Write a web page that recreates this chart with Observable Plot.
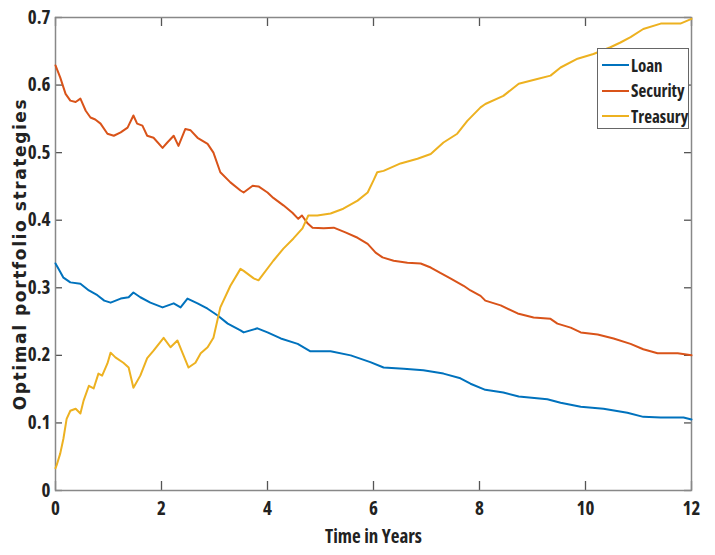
<!DOCTYPE html>
<html>
<head>
<meta charset="utf-8">
<script src="https://cdn.jsdelivr.net/npm/d3@7"></script>
<script src="https://cdn.jsdelivr.net/npm/@observablehq/plot@0.6"></script>
<style>
  html, body { margin: 0; padding: 0; background: #fff; }
  #wrap { position: relative; width: 715px; height: 555px; }
  #wrap svg text { font-family: "Open Sans", "Noto Sans", sans-serif; font-stretch: 75%; font-weight: bold; fill: #222; }
  #wrap svg g[aria-label="y-axis label"] text { font-family: "DejaVu Sans", sans-serif; font-stretch: normal; font-size: 17px; letter-spacing: 1.6px; }
  #legend { position: absolute; left: 597px; top: 48px; width: 92px; height: 81px; border: 1px solid #666;
    background: #fff; box-sizing: border-box; font-family: "Open Sans", "Noto Sans", sans-serif; font-stretch: 75%;
    font-weight: bold; font-size: 17px; color: #222; }
  .item { position: absolute; left: 4px; height: 20px; display: flex; align-items: center; }
  .sw { width: 27px; height: 2px; margin-right: 2px; }
</style>
</head>
<body>
<div id="wrap"></div>
<script>
const seriesNames = ["Loan", "Security", "Treasury"];
const seriesColors = ["#0072BD", "#D95319", "#EDB120"];

const loanT = [0,0.08,0.15,0.28,0.47,0.63,0.79,0.92,1.04,1.23,1.38,1.47,1.6,1.79,2.02,2.23,2.36,2.49,2.68,2.87,3.06,3.25,3.49,3.55,3.81,4.0,4.25,4.57,4.81,5.19,5.57,5.94,6.19,6.57,6.94,7.32,7.64,7.83,8.11,8.45,8.74,9.28,9.53,9.91,10.34,10.79,11.09,11.42,11.85,12];
const loanV = [0.336,0.325,0.315,0.308,0.306,0.296,0.289,0.281,0.278,0.284,0.286,0.293,0.286,0.278,0.271,0.277,0.271,0.284,0.277,0.269,0.259,0.247,0.237,0.234,0.240,0.234,0.225,0.217,0.206,0.206,0.200,0.190,0.182,0.180,0.178,0.173,0.166,0.158,0.149,0.145,0.139,0.135,0.130,0.124,0.121,0.115,0.109,0.108,0.108,0.105];

const secT = [0,0.09,0.19,0.28,0.38,0.47,0.57,0.66,0.75,0.85,0.98,1.1,1.23,1.36,1.47,1.54,1.64,1.73,1.85,2.02,2.11,2.23,2.32,2.45,2.55,2.68,2.87,2.98,3.11,3.3,3.49,3.55,3.72,3.83,4.0,4.11,4.3,4.47,4.58,4.65,4.75,4.85,5.06,5.25,5.47,5.7,5.89,6.04,6.17,6.38,6.64,6.89,7.08,7.26,7.45,7.7,7.83,8.02,8.11,8.4,8.72,9.02,9.34,9.47,9.72,9.91,10.23,10.53,10.85,11.09,11.36,11.74,12];
const secV = [0.629,0.611,0.587,0.577,0.575,0.580,0.562,0.552,0.549,0.543,0.528,0.525,0.530,0.537,0.555,0.543,0.540,0.525,0.522,0.507,0.515,0.525,0.510,0.535,0.533,0.522,0.513,0.500,0.471,0.456,0.444,0.441,0.451,0.450,0.441,0.433,0.422,0.411,0.402,0.407,0.396,0.389,0.388,0.389,0.382,0.374,0.365,0.352,0.345,0.340,0.337,0.336,0.330,0.322,0.314,0.303,0.296,0.288,0.281,0.274,0.262,0.256,0.254,0.247,0.241,0.234,0.231,0.225,0.217,0.209,0.203,0.203,0.200];

const treT = [0,0.02,0.09,0.15,0.21,0.28,0.38,0.47,0.53,0.63,0.72,0.81,0.88,0.98,1.04,1.13,1.28,1.38,1.47,1.6,1.73,1.85,2.04,2.17,2.3,2.4,2.51,2.64,2.74,2.87,2.98,3.11,3.3,3.49,3.55,3.74,3.83,4.11,4.3,4.49,4.66,4.77,4.94,5.19,5.43,5.7,5.89,6.0,6.07,6.19,6.51,6.83,7.08,7.32,7.58,7.77,8.02,8.11,8.45,8.74,9.09,9.34,9.53,9.85,10.15,10.47,10.66,10.85,11.09,11.42,11.79,12];
const treV = [0.033,0.037,0.055,0.077,0.106,0.118,0.121,0.114,0.133,0.155,0.151,0.173,0.170,0.188,0.204,0.197,0.189,0.182,0.152,0.170,0.196,0.207,0.226,0.212,0.222,0.203,0.182,0.189,0.203,0.212,0.226,0.271,0.303,0.328,0.325,0.314,0.311,0.340,0.358,0.373,0.388,0.407,0.407,0.410,0.417,0.429,0.441,0.459,0.471,0.473,0.484,0.491,0.498,0.515,0.528,0.547,0.567,0.572,0.584,0.602,0.609,0.614,0.626,0.639,0.646,0.656,0.663,0.671,0.683,0.691,0.691,0.698];

const xTicks = [0, 2, 4, 6, 8, 10, 12];
const yTicks = [0, 0.1, 0.2, 0.3, 0.4, 0.5, 0.6, 0.7];

const rows = [];
[[loanT, loanV], [secT, secV], [treT, treV]].forEach(([ts, vs], i) => {
  ts.forEach((t, j) => rows.push({series: seriesNames[i], t, v: vs[j]}));
});

const fmtY = d => d === 0 ? "0" : d3.format(".1f")(d);

const W = 715, H = 555, mL = 55, mR = 24, mT = 17, mB = 65;
const plotW = W - mL - mR, plotH = H - mT - mB;
const tickLenX = 9, tickLenY = 7;

const chart = Plot.plot({
  width: W,
  height: H,
  marginLeft: mL,
  marginRight: mR,
  marginTop: mT,
  marginBottom: mB,
  style: {fontSize: "19px", background: "#fff", overflow: "visible"},
  x: {domain: [0, 12]},
  y: {domain: [0, 0.7]},
  color: {domain: seriesNames, range: seriesColors},
  marks: [
    Plot.axisX({ticks: xTicks, tickSize: 0, tickPadding: 11, label: "Time in Years", labelAnchor: "center", labelArrow: "none", labelOffset: 52}),
    Plot.axisY({ticks: yTicks, tickSize: 0, tickPadding: 5, tickFormat: fmtY, label: "Optimal portfolio strategies", labelAnchor: "center", labelArrow: "none", labelOffset: 42}),
    Plot.ruleX(xTicks, {x: d => d, insetTop: plotH - tickLenX, stroke: "#555", strokeWidth: 1.3}),
    Plot.ruleX(xTicks, {x: d => d, insetBottom: plotH - tickLenX, stroke: "#555", strokeWidth: 1.3}),
    Plot.ruleY(yTicks, {y: d => d, insetRight: plotW - tickLenY, stroke: "#555", strokeWidth: 1.3}),
    Plot.ruleY(yTicks, {y: d => d, insetLeft: plotW - tickLenY, stroke: "#555", strokeWidth: 1.3}),
    Plot.frame({stroke: "#888", strokeWidth: 1.5}),
    Plot.line(rows, {x: "t", y: "v", z: "series", stroke: "series", strokeWidth: 2, curve: "linear"})
  ]
});

const wrap = document.getElementById("wrap");
wrap.appendChild(chart);

const legend = document.createElement("div");
legend.id = "legend";
seriesNames.forEach((name, i) => {
  const item = document.createElement("div");
  item.className = "item";
  item.style.top = (6 + i * 25.5) + "px";
  const sw = document.createElement("span");
  sw.className = "sw";
  sw.style.background = seriesColors[i];
  const tx = document.createElement("span");
  tx.textContent = name;
  item.appendChild(sw);
  item.appendChild(tx);
  legend.appendChild(item);
});
wrap.appendChild(legend);
</script>
</body>
</html>
